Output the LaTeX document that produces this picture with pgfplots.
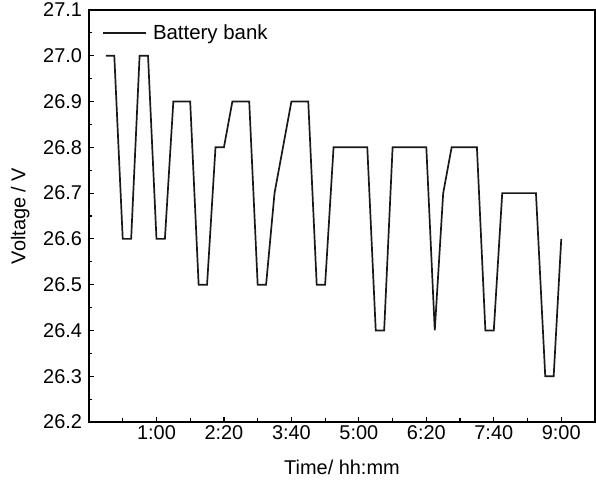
\documentclass[border=0pt]{standalone}
\usepackage{fontspec}
\setmainfont{Liberation Sans}
\usepackage{pgfplots}
\pgfplotsset{compat=1.18}
\begin{document}
\begin{tikzpicture}[font=\fontsize{20}{24}\selectfont]
\useasboundingbox (-89bp,-62bp) rectangle (507bp,422bp);
\begin{axis}[
  at={(0,0)}, anchor=south west,
  scale only axis, width=506bp, height=412bp,
  xmin=-20, xmax=580, ymin=26.2, ymax=27.1,
  axis line style={line width=1.5bp},
  tick align=inside, xtick pos=bottom, ytick pos=left,
  major tick length=5bp, minor tick length=3.5bp,
  every tick/.style={black, line width=1.2bp},
  xtick={60,140,220,300,380,460,540},
  xticklabels={1:00,2:20,3:40,5:00,6:20,7:40,9:00},
  minor xtick={20,100,180,260,340,420,500},
  ytick={26.2,26.3,26.4,26.5,26.6,26.7,26.8,26.9,27.0,27.1},
  minor ytick={26.25,26.35,26.45,26.55,26.65,26.75,26.85,26.95,27.05},
  /pgf/number format/fixed, /pgf/number format/fixed zerofill,
  /pgf/number format/precision=1, /pgf/number format/assume math mode=true,
  xticklabel style={yshift=0bp},
  yticklabel style={xshift=-3.5bp},
  xlabel={Time/ hh:mm}, ylabel={Voltage / V},
  xlabel style={at={(axis description cs:0.5,-0.11)}, anchor=center},
  ylabel style={at={(axis description cs:-0.136,0.5)}, anchor=center},
  legend style={draw=none, fill=none, at={(axis description cs:0.02,0.944)}, anchor=west, font=\fontsize{20.5}{24}\selectfont},
  legend cell align=left,
  legend image code/.code={\draw[#1] (0bp,0bp) -- (43bp,0bp); \path (47bp,0bp);},
]
\addplot[color={black!90}, line width=1.7bp] coordinates {
(0,27.0) (10,27.0) (20,26.6) (30,26.6) (40,27.0) (50,27.0)
(60,26.6) (70,26.6) (80,26.9) (100,26.9) (110,26.5) (120,26.5)
(130,26.8) (140,26.8) (150,26.9) (170,26.9) (180,26.5) (190,26.5)
(200,26.7) (220,26.9) (240,26.9) (250,26.5) (260,26.5)
(270,26.8) (310,26.8) (320,26.4) (330,26.4) (340,26.8) (380,26.8)
(390,26.4) (400,26.7) (410,26.8) (440,26.8) (450,26.4) (460,26.4)
(470,26.7) (510,26.7) (521,26.3) (531,26.3) (540,26.6)
};
\addlegendentry{Battery bank}
\end{axis}
\end{tikzpicture}
\end{document}
